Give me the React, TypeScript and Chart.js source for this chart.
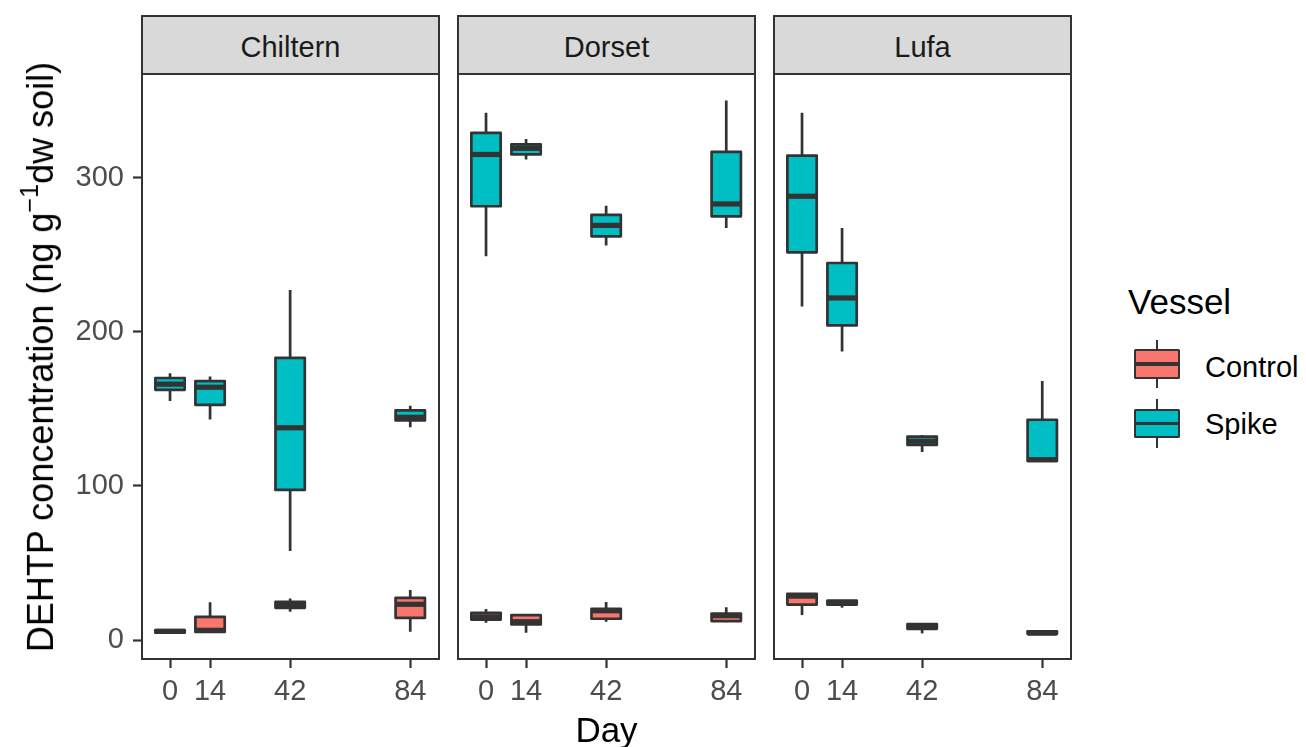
import React, { useEffect, useRef } from "react";
import { Chart, registerables } from "chart.js";

Chart.register(...registerables);

// ---------- data ----------
const sites = ["Chiltern", "Dorset", "Lufa"];
const days = [0, 14, 42, 84];
const vessels = ["Control", "Spike"];
const yTicks = [0, 100, 200, 300];
const vesselColors = ["#F8766D", "#00BFC4"];

// five-number summaries per day: [lower whisker, Q1, median, Q3, upper whisker]
const chilternControl = [
  [4.5, 4.8, 5.6, 6.4, 7],
  [4.5, 5.2, 6.3, 15, 24.5],
  [18.4, 20.9, 22.5, 24.7, 27],
  [5.4, 14.4, 23.2, 27.4, 32.5],
];
const chilternSpike = [
  [155, 162.3, 166, 170, 173],
  [143, 152.6, 164, 168, 171],
  [57.8, 97.4, 137.7, 183, 227],
  [138, 142.5, 144.5, 149, 152],
];
const dorsetControl = [
  [11.2, 13.3, 15, 17.6, 20.1],
  [4.7, 10.1, 11.9, 16.1, 16.5],
  [11.9, 13.8, 19, 20.2, 24.7],
  [11.5, 12.3, 15.8, 17.2, 21.2],
];
const dorsetSpike = [
  [249, 281.4, 315, 329, 342],
  [311.7, 315, 319, 321.5, 325],
  [256, 261.9, 269, 275.8, 281.8],
  [267.3, 274.9, 282.9, 316.7, 350],
];
const lufaControl = [
  [16.2, 23, 28.5, 30, 30],
  [21, 23, 24, 25.6, 25.6],
  [4.3, 7.3, 8.5, 10.4, 10.4],
  [3.5, 4, 4.5, 5.7, 5.7],
];
const lufaSpike = [
  [216.4, 251.5, 287.9, 314.3, 342],
  [187.2, 204.1, 221.9, 244.6, 267.3],
  [122, 126.6, 129, 132, 133],
  [116, 116.2, 117, 142.9, 168],
];
const siteStats = [
  [chilternControl, chilternSpike],
  [dorsetControl, dorsetSpike],
  [lufaControl, lufaSpike],
];

// ---------- layout / style ----------
const FONT = "'Liberation Sans', Arial, sans-serif";
const X_MIN = -9.8;
const X_MAX = 94.05;
const Y_MIN = -12.3;
const Y_MAX = 367.2;
const BOX_WIDTH_DAYS = 11.2;
const PANEL_LEFTS = [142, 458, 774];
const PANEL_W = 297;
const PANEL_TOP = 74;
const PANEL_BOTTOM = 659;
const PAD = 4;
const X_AXIS_H = 60;
const Y_AXIS_W = 142;
const DARK = "#333333";
const LINE_W = 2.7;
const MEDIAN_W = 5.2;
const SMALL_FONT = 29;

const boxPlugin = {
  id: "boxWhiskers",
  beforeDatasetsDraw(chart: any) {
    const ctx = chart.ctx;
    const ys = chart.scales.y;
    ctx.save();
    ctx.strokeStyle = DARK;
    ctx.lineWidth = LINE_W;
    ctx.lineCap = "butt";
    chart.data.datasets.forEach((ds: any, i: number) => {
      const meta = chart.getDatasetMeta(i);
      meta.data.forEach((el: any, j: number) => {
        const s = ds.stats[j];
        const { x } = el.getProps(["x"], true);
        ctx.beginPath();
        ctx.moveTo(x, ys.getPixelForValue(s[3]));
        ctx.lineTo(x, ys.getPixelForValue(s[4]));
        ctx.moveTo(x, ys.getPixelForValue(s[1]));
        ctx.lineTo(x, ys.getPixelForValue(s[0]));
        ctx.stroke();
      });
    });
    ctx.restore();
  },
  afterDatasetsDraw(chart: any) {
    const ctx = chart.ctx;
    const ys = chart.scales.y;
    ctx.save();
    ctx.strokeStyle = DARK;
    chart.data.datasets.forEach((ds: any, i: number) => {
      const meta = chart.getDatasetMeta(i);
      meta.data.forEach((el: any, j: number) => {
        const s = ds.stats[j];
        const { x, y, base, width } = el.getProps(["x", "y", "base", "width"], true);
        const top = Math.min(y, base);
        const h = Math.abs(base - y);
        ctx.lineWidth = LINE_W;
        ctx.lineJoin = "round";
        ctx.strokeRect(x - width / 2, top, width, h);
        const my = ys.getPixelForValue(s[2]);
        ctx.lineWidth = MEDIAN_W;
        ctx.beginPath();
        ctx.moveTo(x - width / 2, my);
        ctx.lineTo(x + width / 2, my);
        ctx.stroke();
      });
    });
    ctx.restore();
  },
  afterDraw(chart: any) {
    const { left, top, right, bottom } = chart.chartArea;
    const ctx = chart.ctx;
    ctx.save();
    ctx.strokeStyle = DARK;
    ctx.lineWidth = 2;
    ctx.strokeRect(left, top, right - left, bottom - top);
    ctx.restore();
  },
};

function Panel({ index }: { index: number }) {
  const ref = useRef<HTMLCanvasElement>(null);
  const showY = index === 0;
  const canvasLeft = showY ? 0 : PANEL_LEFTS[index] - PAD;
  const width = showY ? Y_AXIS_W + PANEL_W + PAD : PANEL_W + 2 * PAD;
  const height = PAD + (PANEL_BOTTOM - PANEL_TOP) + X_AXIS_H;

  useEffect(() => {
    const stats = siteStats[index];
    const barPx = (BOX_WIDTH_DAYS * PANEL_W) / (X_MAX - X_MIN) - LINE_W;
    const tickGrid = {
      display: true,
      drawOnChartArea: false,
      drawTicks: true,
      tickLength: 9,
      tickColor: DARK,
      tickWidth: 2.2,
      offset: false,
    };
    const chart = new Chart(ref.current as HTMLCanvasElement, {
      type: "bar",
      data: {
        datasets: vessels.map((v, i) => ({
          label: v,
          data: days.map((d, j) => ({ x: d, y: [stats[i][j][1], stats[i][j][3]] })),
          stats: stats[i],
          backgroundColor: vesselColors[i],
          borderWidth: 0,
          grouped: false,
          barThickness: barPx,
        })) as any,
      },
      options: {
        responsive: false,
        animation: false,
        events: [],
        layout: { padding: { top: PAD, right: PAD, left: showY ? 0 : PAD, bottom: 0 } },
        plugins: { legend: { display: false }, tooltip: { enabled: false } },
        scales: {
          x: {
            type: "linear",
            min: X_MIN,
            max: X_MAX,
            offset: false,
            grid: tickGrid,
            border: { display: false },
            ticks: {
              color: "#4D4D4D",
              font: { size: SMALL_FONT, family: FONT },
              padding: 7,
              maxRotation: 0,
              autoSkip: false,
            },
            afterBuildTicks: (s: any) => {
              s.ticks = days.map((v) => ({ value: v }));
            },
            afterFit: (s: any) => {
              s.height = X_AXIS_H;
              s.paddingLeft = 0;
              s.paddingRight = 0;
            },
          },
          y: {
            type: "linear",
            min: Y_MIN,
            max: Y_MAX,
            display: showY,
            grid: tickGrid,
            border: { display: false },
            ticks: {
              color: "#4D4D4D",
              font: { size: SMALL_FONT, family: FONT },
              padding: 9,
            },
            afterBuildTicks: (s: any) => {
              s.ticks = yTicks.map((v) => ({ value: v }));
            },
            afterFit: (s: any) => {
              s.width = showY ? Y_AXIS_W : 0;
              s.paddingTop = 0;
              s.paddingBottom = 0;
            },
          },
        } as any,
      },
      plugins: [boxPlugin],
    });
    return () => chart.destroy();
  }, [index]);

  return (
    <>
      <div
        style={{
          position: "absolute",
          left: PANEL_LEFTS[index] - 1,
          top: 15,
          width: PANEL_W + 2,
          height: 60,
          boxSizing: "border-box",
          background: "#D9D9D9",
          border: `2px solid ${DARK}`,
        }}
      />
      <div
        style={{
          position: "absolute",
          left: PANEL_LEFTS[index],
          top: 46.7 - 0.4885 * SMALL_FONT,
          width: PANEL_W,
          textAlign: "center",
          fontSize: SMALL_FONT,
          lineHeight: 1,
          color: "#1A1A1A",
          whiteSpace: "nowrap",
        }}
      >
        {sites[index]}
      </div>
      <canvas
        ref={ref}
        width={width}
        height={height}
        style={{ position: "absolute", left: canvasLeft, top: PANEL_TOP - PAD }}
      />
    </>
  );
}

function LegendKey({ color, cy }: { color: string; cy: number }) {
  const cx = 1157;
  return (
    <>
      <div
        style={{
          position: "absolute",
          left: cx - 1.35,
          top: cy - 24.3,
          width: 2.7,
          height: 48.6,
          background: DARK,
        }}
      />
      <div
        style={{
          position: "absolute",
          left: 1134,
          top: cy - 14.7,
          width: 46,
          height: 29.4,
          boxSizing: "border-box",
          background: color,
          border: `2.6px solid ${DARK}`,
          borderRadius: 1.5,
        }}
      />
      <div
        style={{
          position: "absolute",
          left: 1134,
          top: cy - 1.7,
          width: 46,
          height: 3.4,
          background: DARK,
        }}
      />
    </>
  );
}

export default function App() {
  const labelTop = (cy: number, size: number) => cy - 0.4885 * size;
  return (
    <div
      style={{
        position: "absolute",
        left: 0,
        top: 0,
        width: 1306,
        height: 747,
        background: "#FFFFFF",
        fontFamily: FONT,
        overflow: "hidden",
      }}
    >
      {sites.map((_, i) => (
        <Panel key={i} index={i} />
      ))}
      <div
        style={{
          position: "absolute",
          left: 38,
          top: 357,
          transform: "translate(-50%, -50%) rotate(-90deg)",
          fontSize: 36,
          lineHeight: 1,
          whiteSpace: "nowrap",
          color: "#000",
        }}
      >
        DEHTP concentration (ng g
        <span style={{ fontSize: "0.7em", verticalAlign: "0.6em" }}>−1</span>
        dw soil)
      </div>
      <div
        style={{
          position: "absolute",
          left: PANEL_LEFTS[1],
          width: PANEL_W,
          top: labelTop(729, 35),
          textAlign: "center",
          fontSize: 35,
          lineHeight: 1,
          color: "#000",
        }}
      >
        Day
      </div>
      <div
        style={{
          position: "absolute",
          left: 1128,
          top: labelTop(300.7, 35),
          fontSize: 35,
          lineHeight: 1,
          color: "#000",
        }}
      >
        Vessel
      </div>
      {vessels.map((v, i) => (
        <React.Fragment key={v}>
          <LegendKey color={vesselColors[i]} cy={i === 0 ? 364 : 423.5} />
          <div
            style={{
              position: "absolute",
              left: 1205,
              top: labelTop(i === 0 ? 366.7 : 424.3, SMALL_FONT),
              fontSize: SMALL_FONT,
              lineHeight: 1,
              color: "#000",
            }}
          >
            {v}
          </div>
        </React.Fragment>
      ))}
    </div>
  );
}
